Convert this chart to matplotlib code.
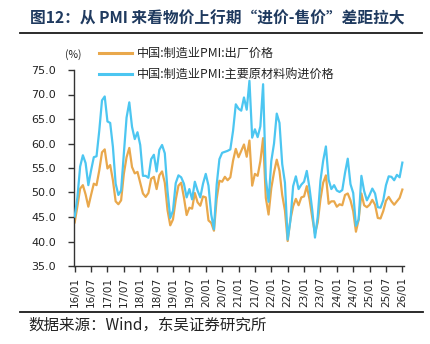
import matplotlib
matplotlib.use("Agg")
import matplotlib.pyplot as plt
import matplotlib.ticker as ticker
import numpy as np
import pandas as pd

plt.rcParams['font.family'] = ['DejaVu Sans']
CJK = ['Noto Sans CJK SC', 'DejaVu Sans']

# Monthly data, 2016/01 - 2026/01
months = pd.date_range("2016-01-01", "2026-01-01", freq="MS")

# 中国:制造业PMI:出厂价格
output_price = [
    43.9, 47.2, 50.8, 51.5, 49.6, 47.1, 49.5, 51.8, 51.5, 54.5, 58.2, 58.8,   # 2016
    54.9, 55.6, 52.5, 48.2, 47.6, 48.4, 53.8, 57.2, 59.1, 55.2, 53.9, 54.2,   # 2017
    52.0, 49.8, 49.1, 49.9, 52.8, 53.2, 50.7, 53.5, 54.3, 52.0, 46.4, 43.3,   # 2018
    44.5, 48.5, 51.4, 52.0, 49.0, 45.4, 46.9, 46.7, 49.9, 48.0, 47.3, 49.2,   # 2019
    49.0, 44.3, 43.8, 42.2, 48.7, 52.4, 52.2, 53.2, 52.5, 53.1, 56.5, 58.9,   # 2020
    57.2, 58.5, 59.8, 57.3, 60.6, 51.4, 53.8, 53.4, 56.4, 61.1, 48.9, 45.5,   # 2021
    50.9, 54.1, 56.7, 54.4, 49.5, 46.3, 40.1, 44.5, 47.2, 48.7, 47.4, 49.0,   # 2022
    49.2, 51.3, 48.6, 44.9, 41.6, 43.9, 48.6, 52.0, 53.5, 47.7, 48.2, 48.2,   # 2023
    47.1, 47.6, 47.4, 49.5, 49.8, 48.4, 46.2, 42.0, 44.5, 49.8, 47.4, 47.0,   # 2024
    47.5, 48.5, 47.5, 44.8, 44.7, 46.2, 48.3, 49.1, 48.2, 47.5, 48.2, 48.9,   # 2025
    50.6,                                                                     # 2026
]

# 中国:制造业PMI:主要原材料购进价格
input_price = [
    45.1, 49.0, 55.3, 57.6, 56.0, 51.5, 54.5, 57.2, 57.4, 62.6, 68.8, 69.6,   # 2016
    64.5, 64.2, 59.3, 51.8, 49.5, 50.4, 57.9, 65.3, 68.4, 63.4, 60.9, 62.3,   # 2017
    59.7, 53.4, 53.4, 53.0, 56.8, 57.7, 54.3, 58.7, 59.7, 58.0, 50.3, 44.8,   # 2018
    46.3, 51.9, 53.5, 53.1, 51.8, 49.0, 50.7, 48.6, 52.2, 50.4, 49.0, 51.8,   # 2019
    53.8, 51.4, 45.5, 42.5, 51.6, 56.8, 58.1, 58.3, 58.5, 58.8, 62.6, 68.0,   # 2020
    67.1, 66.7, 69.4, 66.9, 72.8, 61.2, 62.9, 61.3, 63.5, 72.1, 52.9, 48.1,   # 2021
    56.4, 60.0, 66.1, 64.2, 55.8, 52.0, 40.4, 44.3, 51.3, 53.3, 50.7, 51.6,   # 2022
    52.2, 54.4, 50.9, 46.4, 40.8, 45.0, 52.4, 56.5, 59.4, 52.6, 50.7, 51.5,   # 2023
    50.4, 50.1, 50.5, 54.0, 56.9, 51.7, 49.9, 43.2, 44.5, 53.4, 50.3, 48.4,   # 2024
    49.5, 50.8, 49.8, 47.0, 46.9, 48.4, 51.5, 53.3, 53.2, 52.5, 53.6, 53.1,   # 2025
    56.1,                                                                     # 2026
]

series_labels = ["中国:制造业PMI:出厂价格", "中国:制造业PMI:主要原材料购进价格"]
colors = ["#E9A84C", "#4CC6F1"]

title = "图12：从 PMI 来看物价上行期“进价-售价”差距拉大"
source = "数据来源：Wind，东吴证券研究所"

W, H = 430, 344
fig = plt.figure(figsize=(W / 100, H / 100), dpi=100)

# axes box in pixels: left 74, right 404, top 70, bottom 266
ax = fig.add_axes([74 / W, 1 - 266 / H, (404 - 74) / W, (266 - 70) / H])

x = np.arange(len(months))
ax.plot(x, output_price, color=colors[0], linewidth=1.6, label=series_labels[0], zorder=2)
ax.plot(x, input_price, color=colors[1], linewidth=1.6, label=series_labels[1], zorder=3)

ax.set_xlim(-0.25, 120.6)
ax.set_ylim(35, 75)
ax.yaxis.set_major_locator(ticker.MultipleLocator(5))
ax.yaxis.set_major_formatter(ticker.FormatStrFormatter("%.1f"))

tick_pos = x[::6]
ax.set_xticks(tick_pos)
ax.set_xticklabels([m.strftime("%y/%m") for m in months[::6]], rotation=90)

for s in ["top", "right"]:
    ax.spines[s].set_visible(False)
for s in ["left", "bottom"]:
    ax.spines[s].set_color("#333333")
    ax.spines[s].set_linewidth(1.0)

ax.tick_params(axis="y", direction="out", length=4, width=1.0, color="#333333",
               labelsize=8, labelcolor="#222222", pad=9)
ax.tick_params(axis="x", direction="out", length=4, width=1.0, color="#333333",
               labelsize=7.6, labelcolor="#222222", pad=4)

ax.text(65 / W, 1 - 55 / H, "(%)", transform=fig.transFigure, fontsize=7.5,
        ha="left", va="center", color="#222222", family=CJK)

leg = fig.legend(loc="upper left", bbox_to_anchor=(99 / W, 1 - 47 / H),
                 frameon=False, prop={"family": CJK, "size": 8.7},
                 handlelength=2.7, handletextpad=0.45, labelspacing=0.65,
                 borderpad=0, borderaxespad=0)
for t in leg.get_texts():
    t.set_color("#222222")
for h in leg.get_lines():
    h.set_linewidth(2.2)

# header / footer
fig.text(30 / W, 1 - 18.5 / H, title, fontsize=11.3, fontweight="bold",
         color="#1F3A5F", ha="left", va="center", family=CJK)
fig.add_artist(plt.Line2D([20 / W, 422 / W], [1 - 33.3 / H, 1 - 33.3 / H],
                          color="#1a1a1a", linewidth=1.3, transform=fig.transFigure))
fig.add_artist(plt.Line2D([20 / W, 423 / W], [1 - 311.7 / H, 1 - 311.7 / H],
                          color="#1a1a1a", linewidth=1.3, transform=fig.transFigure))
fig.text(28 / W, 1 - 325 / H, source, fontsize=11.2, color="#222222",
         ha="left", va="center", family=CJK)

fig.savefig("out.png", dpi=100)
